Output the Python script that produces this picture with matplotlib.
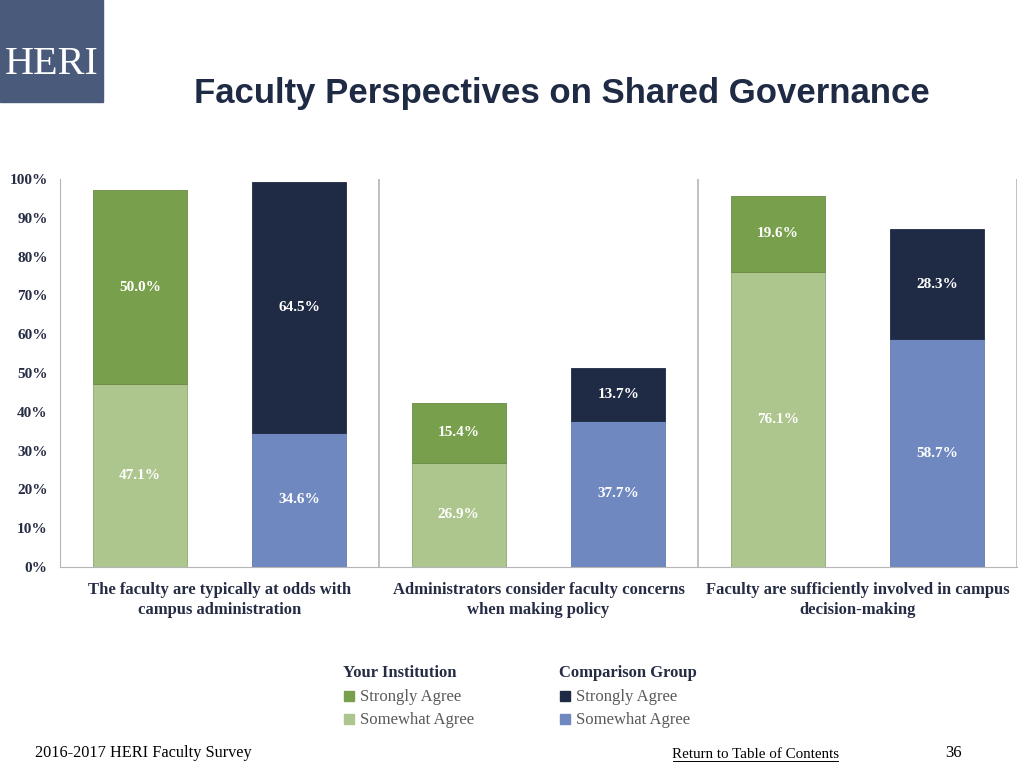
import matplotlib.pyplot as plt
from matplotlib.patches import Rectangle

# Datos del gráfico
categories = ['The faculty are typically at odds with\ncampus administration',
              'Administrators consider faculty concerns\nwhen making policy',
              'Faculty are sufficiently involved in campus\ndecision-making']
inst_somewhat = [47.1, 26.9, 76.1]
inst_strongly = [50.0, 15.4, 19.6]
comp_somewhat = [34.6, 37.7, 58.7]
comp_strongly = [64.5, 13.7, 28.3]
y_ticks = [0, 10, 20, 30, 40, 50, 60, 70, 80, 90, 100]

c_inst_strong = '#789f4b'
c_inst_some = '#adc68e'
c_comp_strong = '#1f2a44'
c_comp_some = '#6f88c0'
navy = '#262c44'
serif = 'Liberation Serif'

fig = plt.figure(figsize=(10.24, 7.68), dpi=100)
ax = fig.add_axes([60/1024, 1 - 567/768, 957/1024, 388/768])

x = range(len(categories))
x1 = [i + 0.25 for i in x]
x2 = [i + 0.75 for i in x]
w = 0.295
ax.bar(x1, inst_somewhat, w, color=c_inst_some, edgecolor='#8fa777', linewidth=0.6)
ax.bar(x1, inst_strongly, w, bottom=inst_somewhat, color=c_inst_strong,
       edgecolor='#6a8a45', linewidth=0.6)
ax.bar(x2, comp_somewhat, w, color=c_comp_some, edgecolor='#6479ac', linewidth=0.6)
ax.bar(x2, comp_strongly, w, bottom=comp_somewhat, color=c_comp_strong,
       edgecolor='#1f2a44', linewidth=0.6)

# Etiquetas de valores
for i in x:
    for xs, lo, hi in [(x1[i], 0, inst_somewhat[i]),
                       (x1[i], inst_somewhat[i], inst_strongly[i]),
                       (x2[i], 0, comp_somewhat[i]),
                       (x2[i], comp_somewhat[i], comp_strongly[i])]:
        ax.text(xs, lo + hi / 2, f'{hi:.1f}%', ha='center', va='center',
                color='white', fontsize=11, fontweight='bold', family=serif)

ax.set_xlim(0, 3)
ax.set_ylim(0, 100)
ax.set_yticks(y_ticks)
ax.set_yticklabels([f'{t}%' for t in y_ticks], fontsize=11, fontweight='bold',
                   family=serif, color=navy)
ax.set_xticks([0.5, 1.5, 2.5])
ax.set_xticklabels(categories, fontsize=12, fontweight='bold', family=serif,
                   color=navy, linespacing=1.35)
ax.tick_params(axis='both', length=0)
ax.tick_params(axis='y', pad=9)
ax.tick_params(axis='x', pad=11)
for s in ['top', 'right']:
    ax.spines[s].set_visible(False)
ax.spines['left'].set_color('#b5b5b5')
ax.spines['bottom'].set_color('#b5b5b5')
for xv in [1, 2, 3]:
    ax.axvline(xv, color='#b5b5b5', linewidth=1.2)

# Logo y título
fig.patches.append(Rectangle((0, 1 - 102/768), 103/1024, 102/768,
                             transform=fig.transFigure, color='#4a5a7b'))
fig.text(52/1024, 1 - 65/768, 'HERI', ha='center', va='center', color='white',
         fontsize=29, family=serif)
fig.text(562/1024, 1 - 93/768, 'Faculty Perspectives on Shared Governance',
         ha='center', va='center', fontsize=25, fontweight='bold',
         family='Liberation Sans', color=c_comp_strong)

# Leyenda manual
fig.text(343/1024, 1 - 673/768, 'Your Institution', fontsize=12,
         fontweight='bold', family=serif, color=navy, va='center')
fig.text(559/1024, 1 - 673/768, 'Comparison Group', fontsize=12,
         fontweight='bold', family=serif, color=navy, va='center')
legend_items = [(343, 697, c_inst_strong, 'Strongly Agree'),
                (343, 720, c_inst_some, 'Somewhat Agree'),
                (559, 697, c_comp_strong, 'Strongly Agree'),
                (559, 720, c_comp_some, 'Somewhat Agree')]
for lx, ly, col, lab in legend_items:
    fig.patches.append(Rectangle(((lx + 1)/1024, 1 - (ly + 4)/768), 10/1024, 10/768,
                                 transform=fig.transFigure, color=col))
    fig.text((lx + 17)/1024, 1 - ly/768, lab, fontsize=12, family=serif,
             color='#595959', va='center')

# Pie de página
fig.text(35/1024, 1 - 753/768, '2016-2017 HERI Faculty Survey', fontsize=11.7,
         family=serif, color='black', va='center')
fig.text(755/1024, 1 - 754/768, 'Return to Table of Contents', fontsize=10.8,
         family=serif, color='black', va='center', ha='center')
fig.add_artist(plt.Line2D([673/1024, 838/1024], [1 - 761/768, 1 - 761/768],
                          color='black', linewidth=0.7))
fig.text(954/1024, 1 - 753/768, '36', fontsize=12, family=serif,
         color='black', va='center', ha='center')

plt.savefig('out.png', dpi=100)
